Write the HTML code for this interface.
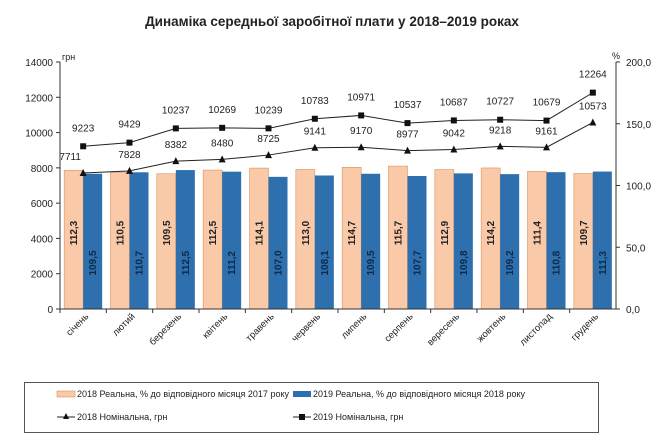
<!DOCTYPE html>
<html><head><meta charset="utf-8"><style>
body{margin:0;background:#fff;width:665px;height:442px;overflow:hidden}
svg{font-family:"Liberation Sans",sans-serif}
</style></head><body>
<svg id="s" width="665" height="442" xmlns="http://www.w3.org/2000/svg"></svg>
<script>
const s=document.getElementById('s');
const m=['січень','лютий','березень','квітень','травень','червень','липень','серпень','вересень','жовтень','листопад','грудень'];
const p18=[112.3,110.5,109.5,112.5,114.1,113.0,114.7,115.7,112.9,114.2,111.4,109.7];
const p19=[109.5,110.7,112.5,111.2,107.0,108.1,109.5,107.7,109.8,109.2,110.8,111.3];
const n18=[7711,7828,8382,8480,8725,9141,9170,8977,9042,9218,9161,10573];
const n19=[9223,9429,10237,10269,10239,10783,10971,10537,10687,10727,10679,12264];
const y0=309,H=247,L=60,R=616,cw=(R-L)/12;
const Y=v=>y0-v*H/14000, P=v=>v*H/200;
let h='';
h+=`<text x="332" y="26" text-anchor="middle" font-size="13.5" font-weight="bold" fill="#222">Динаміка середньої заробітної плати у 2018–2019 роках</text>`;
for(let i=0;i<12;i++){const c=L+cw*(i+0.5);
h+=`<rect x="${c-19}" y="${y0-P(p18[i])}" width="19" height="${P(p18[i])}" fill="#f9c9a8" stroke="#d9925f" stroke-width="0.6"/>`;
h+=`<rect x="${c}" y="${y0-P(p19[i])}" width="19" height="${P(p19[i])}" fill="#2e6fad"/>`;
h+=`<text transform="translate(${c-6},${y0-76}) rotate(-90)" text-anchor="middle" font-size="10" font-weight="bold" fill="#222">${p18[i].toFixed(1).replace('.',',')}</text>`;
h+=`<text transform="translate(${c+13},${y0-46}) rotate(-90)" text-anchor="middle" font-size="10" font-weight="bold" fill="#0d2a4a">${p19[i].toFixed(1).replace('.',',')}</text>`;
h+=`<text transform="translate(${c+6},${y0+8}) rotate(-45)" text-anchor="end" font-size="9.5" fill="#222">${m[i]}</text>`;
h+=`<line x1="${L+cw*i}" y1="${y0}" x2="${L+cw*i}" y2="${y0+4}" stroke="#333"/>`;
}
h+=`<line x1="${L}" y1="${Y(14000)}" x2="${L}" y2="${y0}" stroke="#333"/><line x1="${L}" y1="${y0}" x2="${R}" y2="${y0}" stroke="#333"/><line x1="${R}" y1="${Y(14000)}" x2="${R}" y2="${y0}" stroke="#333"/>`;
for(let v=0;v<=14000;v+=2000){h+=`<line x1="${L-4}" y1="${Y(v)}" x2="${L}" y2="${Y(v)}" stroke="#333"/><text x="${L-7}" y="${Y(v)+4}" text-anchor="end" font-size="10" fill="#222">${v}</text>`;}
for(let v=0;v<=200;v+=50){const y=y0-P(v);h+=`<line x1="${R}" y1="${y}" x2="${R+4}" y2="${y}" stroke="#333"/><text x="${R+10}" y="${y+4}" font-size="10" fill="#222">${v.toFixed(1).replace('.',',')}</text>`;}
h+=`<text x="${L+2}" y="${Y(14000)-2}" font-size="9" fill="#222">грн</text><text x="${R-4}" y="${Y(14000)-3}" font-size="9" fill="#222">%</text>`;
let a='',b='';
for(let i=0;i<12;i++){const c=L+cw*(i+0.5);a+=`${c},${Y(n18[i])} `;b+=`${c},${Y(n19[i])} `;}
h+=`<polyline points="${a}" fill="none" stroke="#222" stroke-width="1"/><polyline points="${b}" fill="none" stroke="#222" stroke-width="1"/>`;
for(let i=0;i<12;i++){const c=L+cw*(i+0.5),y1=Y(n18[i]),y2=Y(n19[i]);
h+=`<polygon points="${c-3.5},${y1+3} ${c+3.5},${y1+3} ${c},${y1-4}" fill="#111"/>`;
h+=`<rect x="${c-3}" y="${y2-3}" width="6" height="6" fill="#111"/>`;
h+=`<text x="${i==0?c-13:c}" y="${y1-13}" text-anchor="middle" font-size="10" fill="#222">${n18[i]}</text>`;
h+=`<text x="${c}" y="${y2-15}" text-anchor="middle" font-size="10" fill="#222">${n19[i]}</text>`;
}
h+=`<rect x="24.5" y="382.5" width="574" height="50" fill="#fff" stroke="#555"/>`;
h+=`<rect x="57" y="391" width="18" height="6" fill="#f9c9a8" stroke="#d9925f" stroke-width="0.6"/><text x="77" y="397" font-size="9" fill="#222">2018 Реальна, % до відповідного місяця 2017 року</text>`;
h+=`<rect x="293" y="391" width="18" height="6" fill="#2e6fad"/><text x="313" y="397" font-size="9" fill="#222">2019 Реальна, % до відповідного місяця 2018 року</text>`;
h+=`<line x1="57" y1="417" x2="75" y2="417" stroke="#222"/><polygon points="63,419 69,419 66,413" fill="#111"/><text x="77" y="420" font-size="9" fill="#222">2018 Номінальна, грн</text>`;
h+=`<line x1="293" y1="417" x2="311" y2="417" stroke="#222"/><rect x="299" y="414" width="6" height="6" fill="#111"/><text x="313" y="420" font-size="9" fill="#222">2019 Номінальна, грн</text>`;
s.innerHTML=h;
</script>
</body></html>
